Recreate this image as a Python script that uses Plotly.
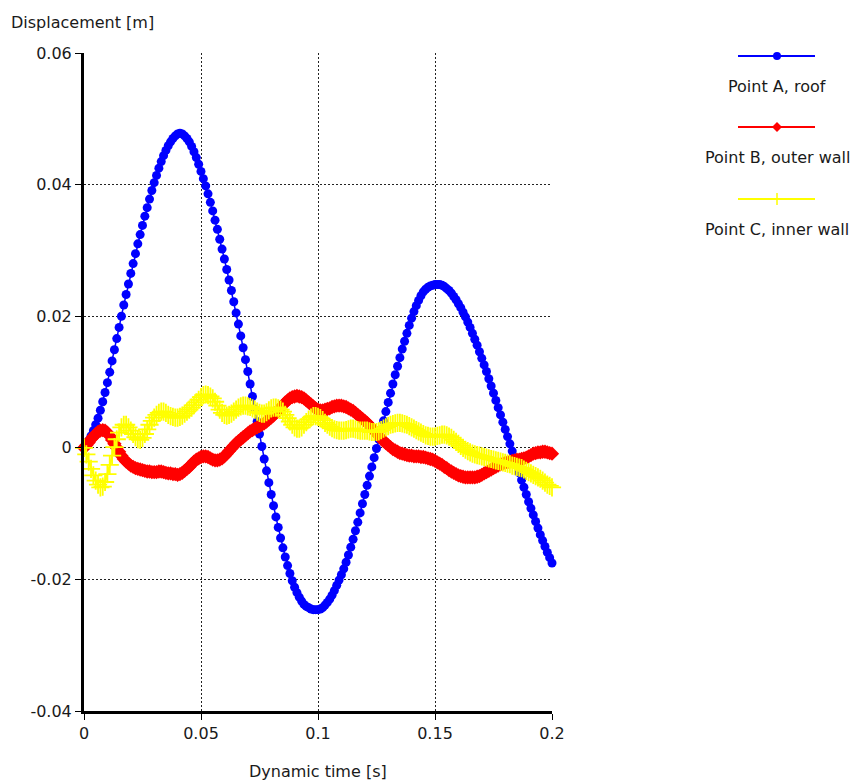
import plotly.graph_objects as go

# time axis in milliseconds -> seconds
time_ms = list(range(0, 201))

point_a = [
    0.0000, 0.0005, 0.0011, 0.0018, 0.0026, 0.0035, 0.0045, 0.0057, 0.0070, 0.0084,
    0.0099, 0.0115, 0.0132, 0.0149, 0.0166, 0.0183, 0.0200, 0.0217, 0.0233, 0.0249,
    0.0265, 0.0280, 0.0295, 0.0310, 0.0324, 0.0338, 0.0352, 0.0365, 0.0378, 0.0391,
    0.0403, 0.0414, 0.0425, 0.0435, 0.0444, 0.0452, 0.0459, 0.0465, 0.0470, 0.0474,
    0.0477, 0.0478, 0.0477, 0.0474, 0.0470, 0.0465, 0.0458, 0.0450, 0.0441, 0.0431,
    0.0420, 0.0409, 0.0398, 0.0386, 0.0373, 0.0360, 0.0346, 0.0332, 0.0317, 0.0302,
    0.0287, 0.0271, 0.0255, 0.0239, 0.0222, 0.0205, 0.0188, 0.0170, 0.0152, 0.0134,
    0.0116, 0.0097, 0.0078, 0.0059, 0.0040, 0.0021, 0.0002, -0.0017, -0.0035, -0.0053,
    -0.0071, -0.0088, -0.0105, -0.0121, -0.0137, -0.0152, -0.0166, -0.0179, -0.0191, -0.0202,
    -0.0212, -0.0220, -0.0227, -0.0233, -0.0238, -0.0241, -0.0243, -0.0245, -0.0246, -0.0246,
    -0.0246, -0.0245, -0.0243, -0.0239, -0.0235, -0.0230, -0.0224, -0.0217, -0.0209, -0.0201,
    -0.0193, -0.0184, -0.0174, -0.0163, -0.0151, -0.0139, -0.0126, -0.0113, -0.0099, -0.0085,
    -0.0071, -0.0057, -0.0043, -0.0029, -0.0015, -0.0001, 0.0013, 0.0027, 0.0041, 0.0055,
    0.0069, 0.0083, 0.0097, 0.0111, 0.0124, 0.0137, 0.0150, 0.0162, 0.0174, 0.0186,
    0.0197, 0.0207, 0.0216, 0.0224, 0.0231, 0.0237, 0.0241, 0.0244, 0.0246, 0.0247,
    0.0248, 0.0248, 0.0248, 0.0247, 0.0245, 0.0242, 0.0239, 0.0235, 0.0230, 0.0225,
    0.0219, 0.0213, 0.0206, 0.0199, 0.0191, 0.0183, 0.0174, 0.0165, 0.0156, 0.0146,
    0.0136, 0.0126, 0.0116, 0.0105, 0.0094, 0.0083, 0.0072, 0.0061, 0.0050, 0.0039,
    0.0028, 0.0017, 0.0006, -0.0005, -0.0016, -0.0027, -0.0038, -0.0049, -0.0060, -0.0071,
    -0.0082, -0.0092, -0.0102, -0.0112, -0.0122, -0.0132, -0.0141, -0.0150, -0.0159, -0.0167,
    -0.0175,
]

point_b = [
    0.0000, 0.0004, 0.0008, 0.0013, 0.0017, 0.0021, 0.0024, 0.0026, 0.0027, 0.0026,
    0.0023, 0.0018, 0.0012, 0.0006, 0.0000, -0.0006, -0.0012, -0.0017, -0.0021, -0.0024,
    -0.0027, -0.0029, -0.0031, -0.0032, -0.0033, -0.0034, -0.0035, -0.0036, -0.0036, -0.0037,
    -0.0037, -0.0037, -0.0036, -0.0036, -0.0037, -0.0038, -0.0039, -0.0039, -0.0040, -0.0040,
    -0.0041, -0.0040, -0.0038, -0.0035, -0.0032, -0.0029, -0.0025, -0.0021, -0.0018, -0.0016,
    -0.0014, -0.0013, -0.0013, -0.0014, -0.0016, -0.0018, -0.0019, -0.0019, -0.0018, -0.0016,
    -0.0013, -0.0009, -0.0005, -0.0001, 0.0003, 0.0007, 0.0010, 0.0013, 0.0016, 0.0019,
    0.0022, 0.0025, 0.0027, 0.0029, 0.0031, 0.0033, 0.0035, 0.0037, 0.0040, 0.0043,
    0.0046, 0.0049, 0.0053, 0.0057, 0.0061, 0.0065, 0.0069, 0.0072, 0.0075, 0.0077,
    0.0078, 0.0079, 0.0078, 0.0077, 0.0075, 0.0072, 0.0069, 0.0066, 0.0063, 0.0060,
    0.0058, 0.0057, 0.0057, 0.0058, 0.0059, 0.0060, 0.0062, 0.0063, 0.0064, 0.0064,
    0.0064, 0.0063, 0.0062, 0.0060, 0.0058, 0.0056, 0.0053, 0.0050, 0.0047, 0.0044,
    0.0041, 0.0038, 0.0034, 0.0030, 0.0026, 0.0022, 0.0018, 0.0014, 0.0010, 0.0007,
    0.0004, 0.0001, -0.0002, -0.0004, -0.0006, -0.0008, -0.0009, -0.0010, -0.0011, -0.0012,
    -0.0012, -0.0013, -0.0013, -0.0013, -0.0014, -0.0014, -0.0015, -0.0016, -0.0017, -0.0018,
    -0.0020, -0.0022, -0.0024, -0.0026, -0.0029, -0.0031, -0.0034, -0.0036, -0.0038, -0.0040,
    -0.0042, -0.0043, -0.0044, -0.0045, -0.0045, -0.0045, -0.0045, -0.0045, -0.0044, -0.0043,
    -0.0041, -0.0039, -0.0037, -0.0035, -0.0033, -0.0031, -0.0029, -0.0027, -0.0025, -0.0024,
    -0.0023, -0.0022, -0.0021, -0.0020, -0.0019, -0.0018, -0.0018, -0.0017, -0.0016, -0.0015,
    -0.0013, -0.0011, -0.0009, -0.0008, -0.0007, -0.0007, -0.0006, -0.0006, -0.0007, -0.0008,
    -0.0009,
]

point_c = [
    0.0000, -0.0010, -0.0021, -0.0032, -0.0042, -0.0050, -0.0056, -0.0060, -0.0059, -0.0052,
    -0.0040, -0.0026, -0.0012, 0.0001, 0.0013, 0.0023, 0.0031, 0.0035, 0.0035, 0.0031,
    0.0026, 0.0021, 0.0016, 0.0013, 0.0012, 0.0015, 0.0021, 0.0028, 0.0035, 0.0041,
    0.0046, 0.0050, 0.0053, 0.0055, 0.0055, 0.0053, 0.0050, 0.0048, 0.0047, 0.0046,
    0.0046, 0.0047, 0.0049, 0.0052, 0.0055, 0.0058, 0.0061, 0.0065, 0.0069, 0.0073,
    0.0077, 0.0080, 0.0081, 0.0080, 0.0078, 0.0075, 0.0070, 0.0064, 0.0058, 0.0053,
    0.0050, 0.0049, 0.0050, 0.0052, 0.0055, 0.0058, 0.0061, 0.0063, 0.0064, 0.0064,
    0.0063, 0.0062, 0.0060, 0.0058, 0.0055, 0.0053, 0.0052, 0.0052, 0.0054, 0.0057,
    0.0060, 0.0061, 0.0061, 0.0060, 0.0058, 0.0055, 0.0050, 0.0045, 0.0040, 0.0035,
    0.0031, 0.0029, 0.0029, 0.0031, 0.0035, 0.0039, 0.0043, 0.0046, 0.0048, 0.0048,
    0.0047, 0.0045, 0.0042, 0.0038, 0.0035, 0.0032, 0.0030, 0.0028, 0.0027, 0.0026,
    0.0026, 0.0026, 0.0027, 0.0028, 0.0029, 0.0029, 0.0028, 0.0027, 0.0026, 0.0026,
    0.0026, 0.0026, 0.0025, 0.0024, 0.0024, 0.0024, 0.0025, 0.0027, 0.0029, 0.0031,
    0.0033, 0.0035, 0.0036, 0.0037, 0.0038, 0.0038, 0.0037, 0.0036, 0.0035, 0.0033,
    0.0031, 0.0029, 0.0027, 0.0025, 0.0023, 0.0021, 0.0019, 0.0018, 0.0017, 0.0017,
    0.0017, 0.0018, 0.0019, 0.0020, 0.0020, 0.0019, 0.0017, 0.0015, 0.0012, 0.0009,
    0.0006, 0.0003, 0.0000, -0.0003, -0.0005, -0.0007, -0.0009, -0.0010, -0.0011, -0.0012,
    -0.0013, -0.0014, -0.0015, -0.0016, -0.0017, -0.0018, -0.0019, -0.0020, -0.0021, -0.0022,
    -0.0023, -0.0024, -0.0025, -0.0027, -0.0028, -0.0029, -0.0030, -0.0031, -0.0033, -0.0035,
    -0.0037, -0.0039, -0.0041, -0.0043, -0.0045, -0.0047, -0.0050, -0.0053, -0.0056, -0.0058,
    -0.0060,
]

series_names = ["Point A, roof", "Point B, outer wall", "Point C, inner wall"]
series_colors = ["#0000ff", "#ff0000", "#ffff00"]

x_tick_vals = [0, 0.05, 0.1, 0.15, 0.2]
x_tick_text = ["0", "0.05", "0.1", "0.15", "0.2"]
y_tick_vals = [-0.04, -0.02, 0, 0.02, 0.04, 0.06]
y_tick_text = ["-0.04", "-0.02", "0", "0.02", "0.04", "0.06"]

t = [m / 1000 for m in time_ms]
FONT = "DejaVu Sans"
TXT = "#1a1a1a"

fig = go.Figure()
fig.add_trace(go.Scatter(
    x=t, y=point_a, mode="lines+markers", name=series_names[0],
    line=dict(color=series_colors[0], width=1.5),
    marker=dict(symbol="circle", size=9, color=series_colors[0]),
    cliponaxis=False, showlegend=False))
fig.add_trace(go.Scatter(
    x=t, y=point_b, mode="lines+markers", name=series_names[1],
    line=dict(color=series_colors[1], width=2),
    marker=dict(symbol="diamond", size=11, color=series_colors[1]),
    cliponaxis=False, showlegend=False))
fig.add_trace(go.Scatter(
    x=t, y=point_c, mode="lines+markers", name=series_names[2],
    line=dict(color=series_colors[2], width=2),
    marker=dict(symbol="cross-thin", size=13, color=series_colors[2],
                line=dict(color=series_colors[2], width=1.8)),
    cliponaxis=False, showlegend=False))

# ---- layout in screen pixels (page has an 8px body margin) ----
OFF = 8
FIG_W, FIG_H = 860 - OFF, 782 - OFF
PLOT_L, PLOT_R, PLOT_T, PLOT_B = 84, 552, 53, 711   # plot area on screen
L = PLOT_L - OFF
T = PLOT_T - OFF
W = PLOT_R - PLOT_L
H = PLOT_B - PLOT_T
R = FIG_W - L - W
B = FIG_H - T - H

def px(xp):
    return (xp - PLOT_L) / W

def py(yp):
    return (PLOT_B - yp) / H

shapes = []
annotations = []
leg_line_y = [56, 127, 199]
leg_text_y = [86, 158, 230]
xc = 777
for i in range(3):
    col = series_colors[i]
    shapes.append(dict(type="line", xref="paper", yref="paper",
                       x0=px(738), x1=px(815), y0=py(leg_line_y[i]), y1=py(leg_line_y[i]),
                       line=dict(color=col, width=2)))
    if i == 0:
        shapes.append(dict(type="circle", xref="paper", yref="paper",
                           xsizemode="pixel", ysizemode="pixel",
                           xanchor=px(xc), yanchor=py(leg_line_y[i]),
                           x0=-4, x1=4, y0=-4, y1=4,
                           fillcolor=col, line=dict(color=col, width=0)))
    elif i == 1:
        shapes.append(dict(type="path", xref="paper", yref="paper",
                           xsizemode="pixel", ysizemode="pixel",
                           xanchor=px(xc), yanchor=py(leg_line_y[i]),
                           path="M 0,5 L 5,0 L 0,-5 L -5,0 Z",
                           fillcolor=col, line=dict(color=col, width=0)))
    else:
        shapes.append(dict(type="path", xref="paper", yref="paper",
                           xsizemode="pixel", ysizemode="pixel",
                           xanchor=px(xc), yanchor=py(leg_line_y[i]),
                           path="M 0,-6 L 0,6 M -6,0 L 6,0",
                           line=dict(color=col, width=1.5)))
    annotations.append(dict(text=series_names[i], xref="paper", yref="paper",
                            x=px(xc), y=py(leg_text_y[i]), xanchor="center", yanchor="middle",
                            showarrow=False, font=dict(family=FONT, size=16, color=TXT)))

annotations.append(dict(text="Displacement [m]", xref="paper", yref="paper",
                        x=px(9), y=py(22), xanchor="left", yanchor="middle",
                        showarrow=False, font=dict(family=FONT, size=16, color=TXT)))
annotations.append(dict(text="Dynamic time [s]", xref="paper", yref="paper",
                        x=px(318), y=py(771), xanchor="center", yanchor="middle",
                        showarrow=False, font=dict(family=FONT, size=16, color=TXT)))

axis_common = dict(
    showgrid=True, gridcolor="#222222", gridwidth=1, griddash="2px,2px",
    zeroline=False, ticks="outside", ticklen=6, tickwidth=1, tickcolor="black",
    tickfont=dict(family=FONT, size=16, color=TXT), showline=True,
    linecolor="black", linewidth=3, mirror=False,
)

fig.update_layout(
    width=FIG_W, height=FIG_H,
    margin=dict(l=L, r=R, t=T, b=B, pad=0),
    plot_bgcolor="white", paper_bgcolor="white",
    xaxis=dict(range=[0, 0.2], tickvals=x_tick_vals, ticktext=x_tick_text, **axis_common),
    yaxis=dict(range=[-0.04, 0.06], tickvals=y_tick_vals, ticktext=y_tick_text, **axis_common),
    shapes=shapes, annotations=annotations, showlegend=False,
)

fig.write_html("out.html")
